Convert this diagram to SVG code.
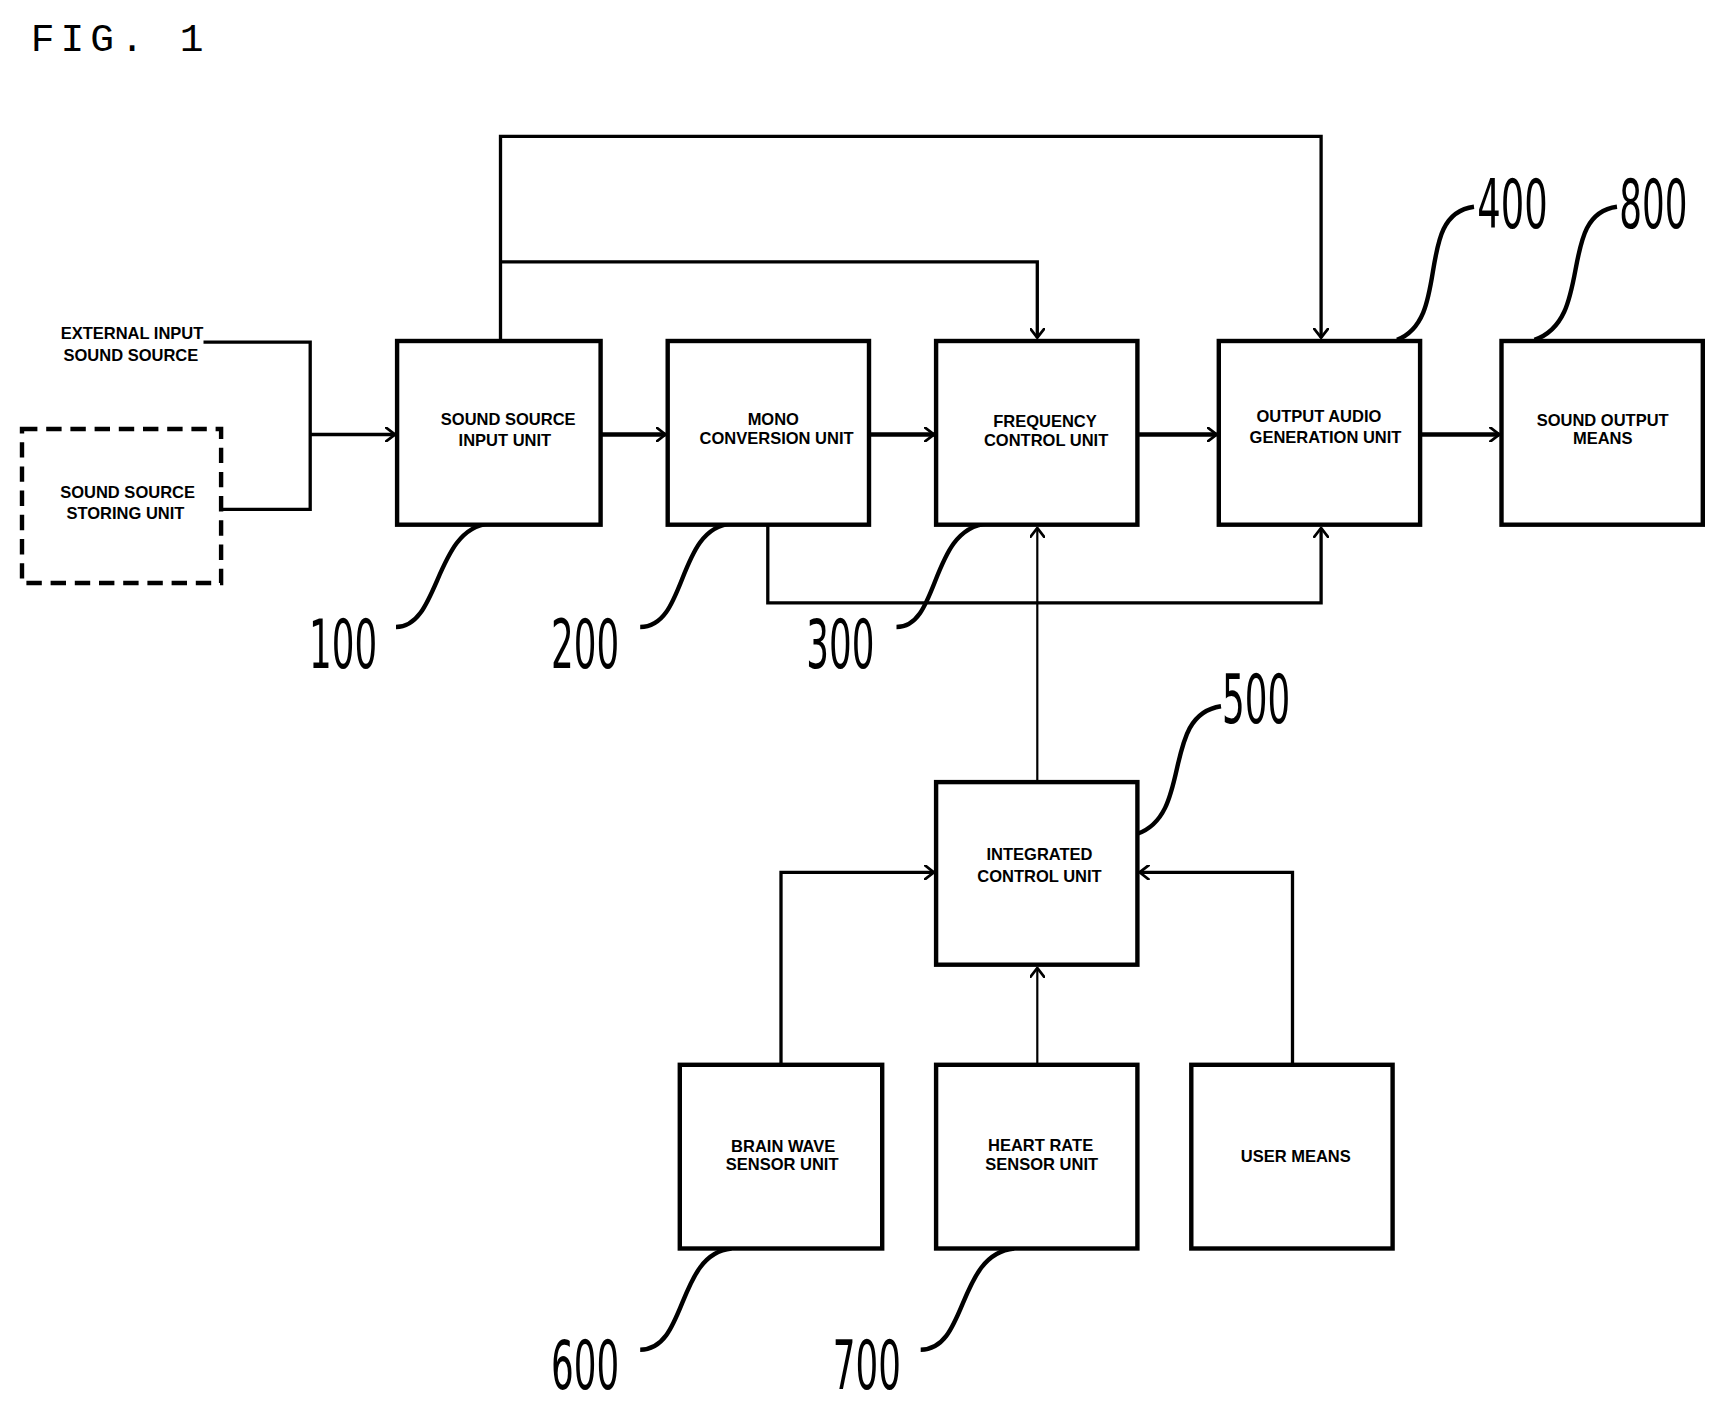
<svg xmlns="http://www.w3.org/2000/svg" width="1723" height="1414" viewBox="0 0 1723 1414">
<style>
.b{fill:#fff;stroke:#000;stroke-width:4}
.t{font-family:"Liberation Sans",Arial,sans-serif;font-size:15px;font-weight:bold;text-anchor:middle}
.n{font-family:"DejaVu Sans Condensed","DejaVu Sans",sans-serif;font-size:62px;text-anchor:middle}
.c{fill:none;stroke:#000;stroke-width:3}
.th{fill:none;stroke:#000;stroke-width:2}
.l{fill:none;stroke:#000;stroke-width:4}
</style>
<defs><marker id="a" markerWidth="10" markerHeight="14" refX="9" refY="7" orient="auto" markerUnits="userSpaceOnUse"><path d="M0,0 L9,7 L0,14" fill="none" stroke="#000" stroke-width="2.5"/></marker></defs>
<rect width="1723" height="1414" fill="#fff"/>
<g transform="scale(1.1)">
<text x="28" y="46" font-family="Liberation Mono,monospace" font-size="36" textLength="157" lengthAdjust="spacing">FIG. 1</text>
<g id="connectors">
<polyline class="c" points="185,311 282,311 282,463 201,463"/>
<line class="c" x1="282" y1="395" x2="359" y2="395" marker-end="url(#a)"/>
<line class="l" x1="546" y1="395" x2="605" y2="395" marker-end="url(#a)"/>
<line class="l" x1="790" y1="395" x2="849" y2="395" marker-end="url(#a)"/>
<line class="l" x1="1034" y1="395" x2="1106" y2="395" marker-end="url(#a)"/>
<line class="l" x1="1291" y1="395" x2="1363" y2="395" marker-end="url(#a)"/>
<polyline class="c" points="455,310 455,124 1201,124 1201,307" marker-end="url(#a)"/>
<polyline class="c" points="455,238 943,238 943,307" marker-end="url(#a)"/>
<polyline class="c" points="698,477 698,548 1201,548 1201,480" marker-end="url(#a)"/>
<line class="th" x1="943" y1="711" x2="943" y2="480" marker-end="url(#a)"/>
<polyline class="c" points="710,968 710,793 849,793" marker-end="url(#a)"/>
<polyline class="c" points="1175,968 1175,793 1036,793" marker-end="url(#a)"/>
<line class="th" x1="943" y1="968" x2="943" y2="880" marker-end="url(#a)"/>
<path class="l" d="M360,570 C400,570 395,480 445,476"/>
<path class="l" d="M582,570 C625,570 615,480 665,476"/>
<path class="l" d="M815,570 C855,570 845,480 898,476"/>
<path class="l" d="M1270,309 C1320,290 1285,195 1340,188"/>
<path class="l" d="M1395,309 C1450,290 1415,195 1470,188"/>
<path class="l" d="M1034,758 C1085,740 1055,650 1110,642"/>
<path class="l" d="M582,1227 C625,1227 615,1140 665,1135"/>
<path class="l" d="M837,1227 C880,1227 870,1140 922,1135"/>
</g>
<text class="t" x="120" y="308" font-size="14">EXTERNAL INPUT</text>
<text class="t" x="119" y="328" font-size="14">SOUND SOURCE</text>
<g id="n_store"><rect x="20" y="390" width="181" height="140" fill="#fff" stroke="#000" stroke-width="4" stroke-dasharray="14,8"/><text class="t" x="116" y="453">SOUND  SOURCE</text><text class="t" x="114" y="472">STORING UNIT</text></g>
<g id="n100"><rect class="b" x="361" y="310" width="185" height="167"/><text class="t" x="462" y="386">SOUND SOURCE</text><text class="t" x="459" y="405">INPUT UNIT</text></g>
<g id="n200"><rect class="b" x="607" y="310" width="183" height="167"/><text class="t" x="703" y="386">MONO</text><text class="t" x="706" y="404">CONVERSION UNIT</text></g>
<g id="n300"><rect class="b" x="851" y="310" width="183" height="167"/><text class="t" x="950" y="388">FREQUENCY</text><text class="t" x="951" y="405">CONTROL UNIT</text></g>
<g id="n400"><rect class="b" x="1108" y="310" width="183" height="167"/><text class="t" x="1199" y="384">OUTPUT AUDIO</text><text class="t" x="1205" y="403">GENERATION UNIT</text></g>
<g id="n800"><rect class="b" x="1365" y="310" width="183" height="167"/><text class="t" x="1457" y="387">SOUND OUTPUT</text><text class="t" x="1457" y="404">MEANS</text></g>
<g id="n500"><rect class="b" x="851" y="711" width="183" height="166"/><text class="t" x="945" y="782">INTEGRATED</text><text class="t" x="945" y="802">CONTROL UNIT</text></g>
<g id="n600"><rect class="b" x="618" y="968" width="184" height="167"/><text class="t" x="712" y="1047">BRAIN WAVE</text><text class="t" x="711" y="1064">SENSOR UNIT</text></g>
<g id="n700"><rect class="b" x="851" y="968" width="183" height="167"/><text class="t" x="946" y="1046">HEART RATE</text><text class="t" x="947" y="1064">SENSOR UNIT</text></g>
<g id="n_user"><rect class="b" x="1083" y="968" width="183" height="167"/><text class="t" x="1178" y="1056">USER MEANS</text></g>
<text class="n" x="312" y="607" textLength="62" lengthAdjust="spacingAndGlyphs">100</text>
<text class="n" x="532" y="607" textLength="62" lengthAdjust="spacingAndGlyphs">200</text>
<text class="n" x="764" y="607" textLength="62" lengthAdjust="spacingAndGlyphs">300</text>
<text class="n" x="1375" y="207" textLength="64" lengthAdjust="spacingAndGlyphs">400</text>
<text class="n" x="1503" y="207" textLength="62" lengthAdjust="spacingAndGlyphs">800</text>
<text class="n" x="1142" y="657" textLength="62" lengthAdjust="spacingAndGlyphs">500</text>
<text class="n" x="532" y="1263" textLength="62" lengthAdjust="spacingAndGlyphs">600</text>
<text class="n" x="788" y="1263" textLength="62" lengthAdjust="spacingAndGlyphs">700</text>
</g>
</svg>
